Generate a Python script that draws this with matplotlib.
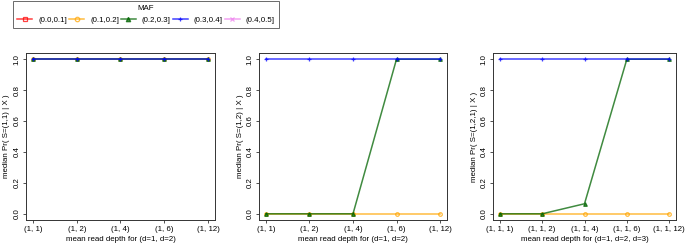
import matplotlib
matplotlib.use("Agg")
import matplotlib.pyplot as plt
from matplotlib.lines import Line2D

plt.rcParams['font.family'] = ['Liberation Sans', 'DejaVu Sans']

maf_labels = ["(0.0,0.1]", "(0.1,0.2]", "(0.2,0.3]", "(0.3,0.4]", "(0.4,0.5]"]
colors = ["red", "orange", "darkgreen", "blue", "violet"]
markers = ["s", "o", "^", "+", "x"]

xlabels_2 = ["(1, 1)", "(1, 2)", "(1, 4)", "(1, 6)", "(1, 12)"]
xlabels_3 = ["(1, 1, 1)", "(1, 1, 2)", "(1, 1, 4)", "(1, 1, 6)", "(1, 1, 12)"]

# panel 1: S=(1,1)
p1 = {
    "(0.1,0.2]": [1.0, 1.0, 1.0, 1.0, 1.0],
    "(0.2,0.3]": [1.0, 1.0, 1.0, 1.0, 1.0],
    "(0.3,0.4]": [1.0, 1.0, 1.0, 1.0, 1.0],
}
# panel 2: S=(1,2)
p2 = {
    "(0.1,0.2]": [0.0, 0.0, 0.0, 0.0, 0.0],
    "(0.2,0.3]": [0.0, 0.0, 0.0, 1.0, 1.0],
    "(0.3,0.4]": [1.0, 1.0, 1.0, 1.0, 1.0],
}
# panel 3: S=(1,2,1)
p3 = {
    "(0.1,0.2]": [0.0, 0.0, 0.0, 0.0, 0.0],
    "(0.2,0.3]": [0.0, 0.0, 0.065, 1.0, 1.0],
    "(0.3,0.4]": [1.0, 1.0, 1.0, 1.0, 1.0],
}

panels = [
    (p1, xlabels_2, "median Pr( S=(1,1) | X )", "mean read depth for (d=1, d=2)"),
    (p2, xlabels_2, "median Pr( S=(1,2) | X )", "mean read depth for (d=1, d=2)"),
    (p3, xlabels_3, "median Pr( S=(1,2,1) | X )", "mean read depth for (d=1, d=2, d=3)"),
]

W, H = 685, 247
fig = plt.figure(figsize=(W / 100, H / 100), dpi=100)
lefts = [26, 259, 493]
rights = [215, 447, 676]
top, bottom = 53, 220
fs = 5.7
ms = 2.6


def style(mk, col, size=ms):
    return dict(color=col, marker=mk, markersize=size, lw=1.1, alpha=0.75,
                markerfacecolor='none' if mk in ('s', 'o') else col,
                markeredgewidth=0.9)


for (data, xl, ylab, xlab), l, r in zip(panels, lefts, rights):
    wpx = r - l
    hpx = bottom - top
    ax = fig.add_axes([l / W, 1 - bottom / H, wpx / W, hpx / H])
    xs = list(range(1, 6))
    for lab, col, mk in zip(maf_labels, colors, markers):
        if lab in data:
            ax.plot(xs, data[lab], **style(mk, col))
    ax.set_xlim(0.84, 5.16)
    ax.set_ylim(-0.04, 1.04)
    ax.set_xticks(xs)
    ax.set_xticklabels(xl, fontsize=fs)
    ax.set_yticks([0, 0.2, 0.4, 0.6, 0.8, 1.0])
    ax.set_yticklabels(["0.0", "0.2", "0.4", "0.6", "0.8", "1.0"], fontsize=fs,
                       rotation=90, va='center')
    ax.tick_params(direction='out', length=2.5, width=0.6, color='#333333', pad=1.6)
    for s in ax.spines.values():
        s.set_linewidth(0.7)
        s.set_color('#333333')
    ax.set_ylabel(ylab, fontsize=fs, va='center')
    ax.yaxis.set_label_coords(-19 / wpx, 0.5)
    ax.set_xlabel(xlab, fontsize=fs, va='center')
    ax.xaxis.set_label_coords(0.5, -(239 - bottom) / hpx)

handles = [Line2D([0], [0], **style(m, c, 3.2)) for c, m in zip(colors, markers)]
leg = fig.legend(handles, maf_labels, ncol=5, title="MAF", fontsize=fs,
                 title_fontsize=fs, loc='upper left',
                 bbox_to_anchor=(13 / W, 1 - 1 / H), borderaxespad=0,
                 frameon=True, fancybox=False,
                 handlelength=1.9, handletextpad=0.75, columnspacing=0.25,
                 borderpad=0.55, labelspacing=0.5)
leg.get_frame().set_edgecolor('#444444')
leg.get_frame().set_linewidth(0.7)

fig.savefig("out.png", dpi=100)
